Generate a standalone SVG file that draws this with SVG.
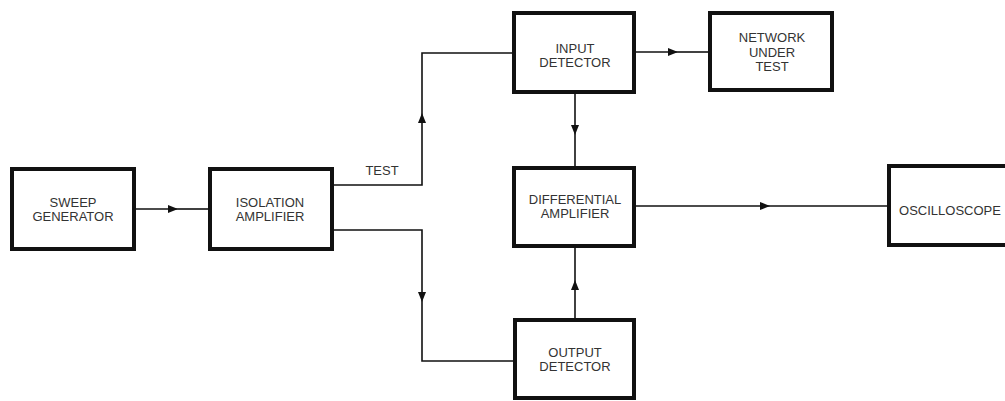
<svg xmlns="http://www.w3.org/2000/svg" width="1005" height="401" viewBox="0 0 1005 401">
<defs>
<marker id="arr" markerUnits="userSpaceOnUse" markerWidth="10" markerHeight="8" refX="10" refY="4" orient="auto"><path d="M0,0 L10,4 L0,8 z" fill="#111"/></marker>
<style>
.box{fill:#fff;stroke:#111;stroke-width:4}
.lbl{font-family:"Liberation Sans",Arial,sans-serif;font-size:13px;fill:#333;text-anchor:middle}
.ln{fill:none;stroke:#111;stroke-width:1.6}
</style>
</defs>
<rect width="1005" height="401" fill="#fff"/>
<g id="connectors">
<path class="ln" d="M136,209 L178,209" marker-end="url(#arr)"/>
<path class="ln" d="M178,209 L208,209"/>
<path class="ln" d="M333,185 L422,185 L422,113" marker-end="url(#arr)"/>
<path class="ln" d="M422,113 L422,53 L513,53"/>
<path class="ln" d="M575,93 L575,135" marker-end="url(#arr)"/>
<path class="ln" d="M575,135 L575,167"/>
<path class="ln" d="M635,52 L678,52" marker-end="url(#arr)"/>
<path class="ln" d="M678,52 L709,52"/>
<path class="ln" d="M333,230 L422,230 L422,302" marker-end="url(#arr)"/>
<path class="ln" d="M422,302 L422,361 L514,361"/>
<path class="ln" d="M575,319 L575,280" marker-end="url(#arr)"/>
<path class="ln" d="M575,280 L575,247"/>
<path class="ln" d="M635,206 L770,206" marker-end="url(#arr)"/>
<path class="ln" d="M770,206 L888,206"/>
<text class="lbl" x="382" y="175">TEST</text>
</g>
<g id="sweep">
<rect class="box" x="12" y="169" width="122" height="80"/>
<text class="lbl" x="73" y="207">SWEEP</text>
<text class="lbl" x="73" y="221">GENERATOR</text>
</g>
<g id="isolation">
<rect class="box" x="210" y="169" width="122" height="80"/>
<text class="lbl" x="270" y="207">ISOLATION</text>
<text class="lbl" x="270" y="221">AMPLIFIER</text>
</g>
<g id="input">
<rect class="box" x="514" y="13" width="120" height="79"/>
<text class="lbl" x="575" y="53">INPUT</text>
<text class="lbl" x="575" y="67">DETECTOR</text>
</g>
<g id="network">
<rect class="box" x="710" y="13" width="122" height="77"/>
<text class="lbl" x="772" y="42">NETWORK</text>
<text class="lbl" x="772" y="57">UNDER</text>
<text class="lbl" x="772" y="71">TEST</text>
</g>
<g id="differential">
<rect class="box" x="514" y="168" width="120" height="78"/>
<text class="lbl" x="575" y="204">DIFFERENTIAL</text>
<text class="lbl" x="575" y="218">AMPLIFIER</text>
</g>
<g id="output">
<rect class="box" x="515" y="320" width="119" height="78"/>
<text class="lbl" x="575" y="357">OUTPUT</text>
<text class="lbl" x="575" y="371">DETECTOR</text>
</g>
<g id="oscilloscope">
<rect class="box" x="889" y="166" width="130" height="79"/>
<text class="lbl" x="950" y="215">OSCILLOSCOPE</text>
</g>
</svg>
